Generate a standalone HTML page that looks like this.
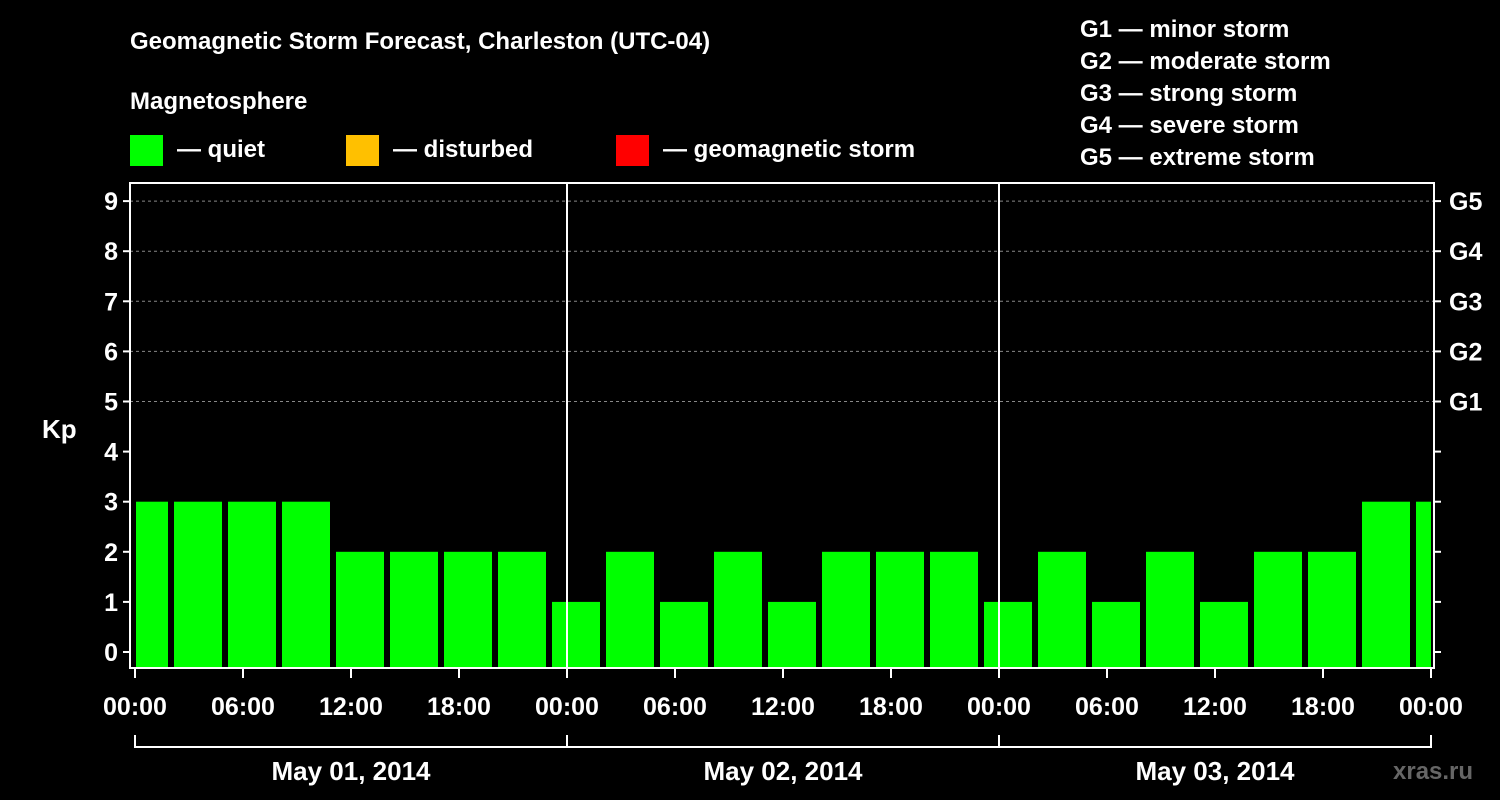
<!DOCTYPE html>
<html><head><meta charset="utf-8"><style>
body{margin:0;background:#000;}
svg{display:block;font-family:"Liberation Sans",Arial,sans-serif;font-weight:bold;}
</style></head><body>
<svg id="c" width="1500" height="800" viewBox="0 0 1500 800">
<rect width="1500" height="800" fill="#000"/>
<text x="130" y="49" fill="#fff" font-size="24">Geomagnetic Storm Forecast, Charleston (UTC-04)</text>
<text x="130" y="109" fill="#fff" font-size="24">Magnetosphere</text>
<g><rect x="130" y="135" width="33" height="31" fill="#00ff00"/><text x="177" y="157" fill="#fff" font-size="24">— quiet</text></g>
<g><rect x="346" y="135" width="33" height="31" fill="#ffc000"/><text x="393" y="157" fill="#fff" font-size="24">— disturbed</text></g>
<g><rect x="616" y="135" width="33" height="31" fill="#ff0000"/><text x="663" y="157" fill="#fff" font-size="24">— geomagnetic storm</text></g>
<g fill="#fff" font-size="24">
<text x="1080" y="37">G1 — minor storm</text><text x="1080" y="69">G2 — moderate storm</text><text x="1080" y="101">G3 — strong storm</text><text x="1080" y="133">G4 — severe storm</text><text x="1080" y="165">G5 — extreme storm</text></g>
<text x="42" y="438" fill="#fff" font-size="26">Kp</text>
<text x="1393" y="779" fill="#666" font-size="24">xras.ru</text>
<g id="g"></g>
</svg>
<script>
const kpValues=[3,3,3,3,2,2,2,2,1,2,1,2,1,2,2,2,1,2,1,2,1,2,2,3,3];
const yTicks=[0,1,2,3,4,5,6,7,8,9];
const gLabels=["G1","G2","G3","G4","G5"];
const days=["May 01, 2014","May 02, 2014","May 03, 2014"];
const hourLabels=["00:00","06:00","12:00","18:00"];
const startHour=-1;
const NS="http://www.w3.org/2000/svg";
const g=document.getElementById('g');
const L=130,R=1434,T=183,B=668,X0=135,PXH=18;
const x=h=>X0+h*PXH;
const y=v=>652-v*50.1;
function mk(t,a,p){const e=document.createElementNS(NS,t);for(const k in a)e.setAttribute(k,a[k]);(p||g).appendChild(e);return e;}
// gridlines
for(let v=5;v<=9;v++){const l=mk('line',{x1:L,x2:R,y1:y(v),y2:y(v),stroke:'#888','stroke-dasharray':'3,3'});

}
// bars
kpValues.forEach((v,i)=>{let a=x(startHour+i*3)+3,b=x(startHour+i*3+3)-3;a=Math.max(a,L+6);b=Math.min(b,x(72));
const c=v>=5?'#ff0000':(v>=4?'#ffc000':'#00ff00');
const r=mk('rect',{x:a,y:y(v),width:b-a,height:B-y(v),fill:c});

});
// frame
const f=mk('rect',{x:L,y:T,width:R-L,height:B-T,fill:'none',stroke:'#fff','stroke-width':2});


[1,2].forEach(d=>{const l=mk('line',{x1:x(24*d),x2:x(24*d),y1:T,y2:B,stroke:'#fff','stroke-width':2});

});
// y ticks
yTicks.forEach(v=>{mk('line',{x1:L-7,x2:L,y1:y(v),y2:y(v),stroke:'#fff','stroke-width':2});
mk('line',{x1:R,x2:R+7,y1:y(v),y2:y(v),stroke:'#fff','stroke-width':2});
const t=mk('text',{x:L-12,y:y(v)+9,fill:'#fff','font-size':25,'text-anchor':'end'});t.textContent=v;

});
gLabels.forEach((s,i)=>{const t=mk('text',{x:1449,y:y(5+i)+9,fill:'#fff','font-size':25});t.textContent=s;

});
// x ticks
for(let h=0;h<=72;h+=6){mk('line',{x1:x(h),x2:x(h),y1:B,y2:B+10,stroke:'#fff','stroke-width':2});
const t=mk('text',{x:x(h),y:715,fill:'#fff','font-size':25,'text-anchor':'middle'});t.textContent=hourLabels[(h/6)%4];

}
mk('line',{x1:x(0),x2:x(72),y1:747,y2:747,stroke:'#fff','stroke-width':2});
for(let d=0;d<=3;d++)mk('line',{x1:x(24*d),x2:x(24*d),y1:735,y2:748,stroke:'#fff','stroke-width':2});
days.forEach((s,d)=>{const t=mk('text',{x:x(24*d+12),y:780,fill:'#fff','font-size':26,'text-anchor':'middle'});t.textContent=s;

});
</script>
</body></html>
